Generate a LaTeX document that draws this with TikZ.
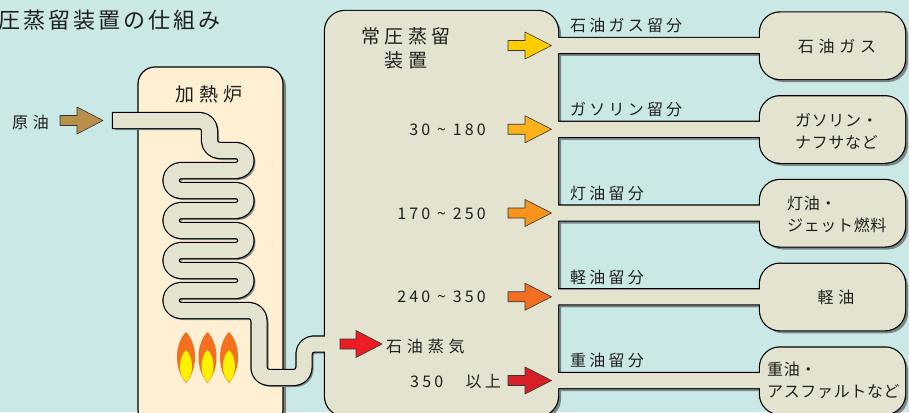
\documentclass[tikz,border=0pt]{standalone}
\usepackage{fontspec}
\setmainfont{Noto Sans CJK JP}
\newfontfamily\titlefont[LetterSpace=14]{Noto Sans CJK JP}
\newfontfamily\headfont[LetterSpace=24]{Noto Sans CJK JP}
\newfontfamily\labelfont[LetterSpace=20]{Noto Sans CJK JP}
\newfontfamily\widefont[LetterSpace=30]{Noto Sans CJK JP}
\newfontfamily\tightfont[LetterSpace=4]{Noto Sans CJK JP}
\usetikzlibrary{positioning}
\definecolor{bgcyan}{HTML}{C9E8E6}
\definecolor{ovenfill}{HTML}{FFEFD3}
\definecolor{steelfill}{HTML}{E3E3CF}
\definecolor{shadegray}{HTML}{7A8686}
\definecolor{crudebrown}{HTML}{B8904A}
\definecolor{flameorange}{HTML}{F37021}
\definecolor{flameyellow}{HTML}{FFF200}
\definecolor{gasyellow}{HTML}{FFCC00}
\definecolor{naphtha}{HTML}{FDB21C}
\definecolor{kerosene}{HTML}{F7941D}
\definecolor{gasoil}{HTML}{F26F21}
\definecolor{heavyred}{HTML}{D71F27}
\definecolor{vapourred}{HTML}{ED1C24}

\begin{document}
\begin{tikzpicture}[x=1pt, y=-1pt, line join=round,
    txt/.style={inner sep=0pt, text=black!88},
    titletxt/.style={txt, font=\titlefont\fontsize{22}{26}\selectfont},
    headtxt/.style={txt, font=\headfont\fontsize{19}{24}\selectfont},
    lbltxt/.style={txt, font=\labelfont\fontsize{16}{20}\selectfont},
    widetxt/.style={txt, font=\widefont\fontsize{16}{20}\selectfont},
    prodtxt/.style={txt, align=left, font=\tightfont\fontsize{16}{22.5}\selectfont}]
  \useasboundingbox (0,0) rectangle (909,412);
  \fill[bgcyan] (0,0) rectangle (909,412);

  % 1 px = 1 pt, y grows downwards
  \def\bands{45.5,129.25,213,296.75,380.5}
  \def\coilrest{-- (209.5,120.5) -- (209.5,150.5) -- (246,150.5) -- (246,170.5)
    -- (171,170.5) -- (171,190.5) -- (246,190.5) -- (246,210.5)
    -- (171,210.5) -- (171,230.5) -- (246,230.5) -- (246,250.5)
    -- (171,250.5) -- (171,270.5) -- (246,270.5) -- (246,290.5)
    -- (171,290.5) -- (171,310.5) -- (259,310.5) -- (259,377.5)
    -- (304,377.5) -- (304,344) -- (336,344)}
  \def\still{[rounded corners=20pt] (325,11) rectangle (558,416)
    [sharp corners] \foreach \c in \bands {(550,\c-7.5) rectangle (770,\c+7.5)}
    [rounded corners=20pt] \foreach \c in \bands {(760,\c-33) rectangle (905,\c+33.5)}}

  % --- furnace ---
  \fill[shadegray, rounded corners=17pt] (141,70) rectangle (286,430);
  \filldraw[fill=ovenfill, draw=black, line width=1.2pt, rounded corners=17pt]
    (138,67) rectangle (283,427);

  % flames
  \foreach \fx in {186,207.5,229} {
    \fill[flameorange] (\fx,332) .. controls (\fx+11,343) and (\fx+13,368) .. (\fx,383)
      .. controls (\fx-13,368) and (\fx-11,343) .. (\fx,332);
    \fill[flameyellow] (\fx,350) .. controls (\fx+7,356) and (\fx+9,374) .. (\fx,382)
      .. controls (\fx-9,374) and (\fx-7,356) .. (\fx,350);
  }

  % --- column, side draws and products (one outline) ---
  \fill[shadegray, shift={(3,3)}] \still;
  \draw[shadegray, line width=15pt, shift={(2,2)}, rounded corners=10pt] (113,120.5) \coilrest;
  \draw[black, line width=17.4pt, rounded corners=10pt] (111.8,120.5) \coilrest;
  \draw[black, line width=2.4pt] \still;
  \fill[steelfill] \still;
  \draw[steelfill, line width=15pt, rounded corners=10pt] (113,120.5) \coilrest;

  % arrows
  \filldraw[fill=crudebrown, draw=black!80, line width=0.6pt]
    (60,115.5) -- ++(17,0) -- ++(0,-8.5) -- ++(26,13.5) -- ++(-26,13.5) -- ++(0,-8.5) -- ++(-17,0) -- cycle;
  \filldraw[fill=vapourred, draw=black!80, line width=0.6pt]
    (340,339) -- ++(16,0) -- ++(0,-8.5) -- ++(26,13.5) -- ++(-26,13.5) -- ++(0,-8.5) -- ++(-16,0) -- cycle;
  \foreach \c/\col in {45.5/gasyellow, 129.25/naphtha, 213/kerosene, 296.75/gasoil, 380.5/heavyred}
    \filldraw[fill=\col, draw=black!80, line width=0.6pt]
      (508,\c-5) -- ++(17,0) -- ++(0,-8.5) -- ++(26.5,13.5) -- ++(-26.5,13.5) -- ++(0,-8.5) -- ++(-17,0) -- cycle;

  % texts
  \node[titletxt, anchor=west] (title) at (-2,20) {圧蒸留装置の仕組み};
  \node[headtxt] (ovenlbl) at (209,94) {加熱炉};
  \node[widetxt, anchor=west] (crudelbl) at (12,122) {原油};
  \node[headtxt, align=center] (stilllbl) at (406,48) {常圧蒸留\\装置};

  \node[lbltxt, anchor=east] (temp1) at (486,130) {30 \textasciitilde{} 180};
  \node[lbltxt, anchor=east] (temp2) at (486,214) {170 \textasciitilde{} 250};
  \node[lbltxt, anchor=east] (temp3) at (486,297) {240 \textasciitilde{} 350};
  \node[lbltxt, anchor=west] (temp4) at (410,382) {350　以上};
  \node[widetxt, anchor=west] (vapour) at (386,346) {石油蒸気};

  \node[lbltxt, anchor=west] (cut1) at (570,25) {石油ガス留分};
  \node[lbltxt, anchor=west] (cut2) at (570,109) {ガソリン留分};
  \node[lbltxt, anchor=west] (cut3) at (570,193) {灯油留分};
  \node[lbltxt, anchor=west] (cut4) at (570,277) {軽油留分};
  \node[lbltxt, anchor=west] (cut5) at (570,360) {重油留分};

  \node[widetxt] (prod1) at (837,46) {石油ガス};
  \node[prodtxt, anchor=west] (prod2) at (795,131.5) {ガソリン・\\ナフサなど};
  \node[prodtxt, anchor=west] (prod3) at (787,214.5) {灯油・\\ジェット燃料};
  \node[widetxt] (prod4) at (836,297) {軽油};
  \node[prodtxt, anchor=west] (prod5) at (767,380.5) {重油・\\アスファルトなど};
\end{tikzpicture}
\end{document}
